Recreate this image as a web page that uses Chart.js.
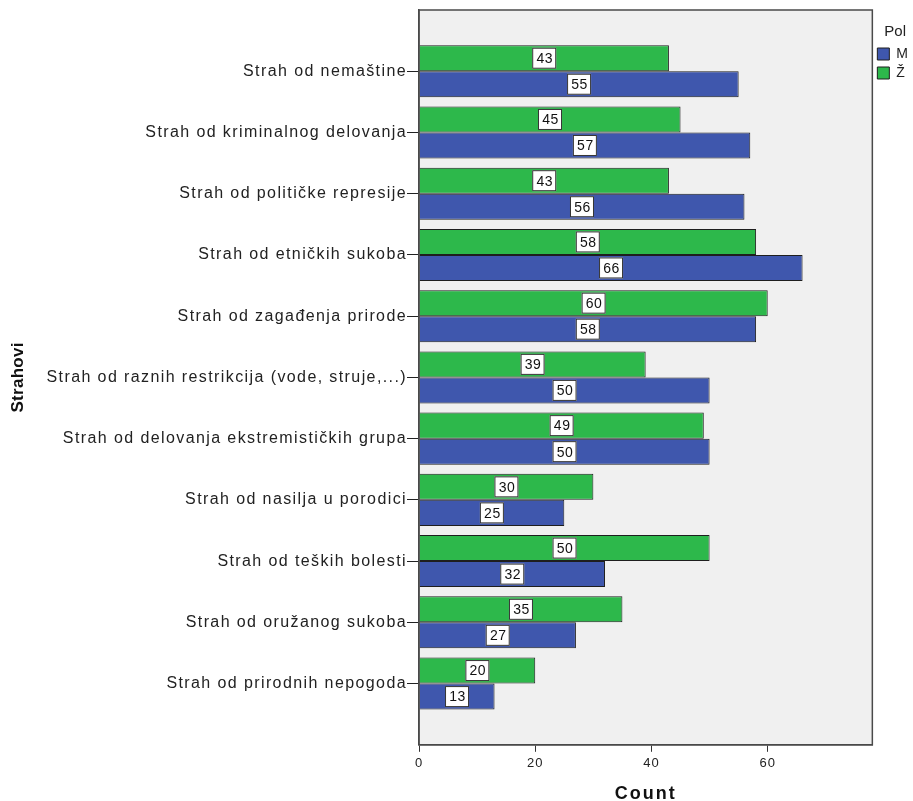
<!DOCTYPE html>
<html>
<head>
<meta charset="utf-8">
<script src="https://cdn.jsdelivr.net/npm/chart.js@4.4.1/dist/chart.umd.min.js"></script>
<style>
  html, body { margin: 0; padding: 0; background: #fff; }
  #wrap { width: 913px; height: 801px; }
</style>
</head>
<body>
<div id="wrap"><canvas id="chart"></canvas></div>
<script>
// Categories (top to bottom)
const strahovi = [
    'Strah od nemaštine',
    'Strah od kriminalnog delovanja',
    'Strah od političke represije',
    'Strah od etničkih sukoba',
    'Strah od zagađenja prirode',
    'Strah od raznih restrikcija (vode, struje,...)',
    'Strah od delovanja ekstremističkih grupa',
    'Strah od nasilja u porodici',
    'Strah od teških bolesti',
    'Strah od oružanog sukoba',
    'Strah od prirodnih nepogoda'
];

// Counts per gender
const countZ = [43, 45, 43, 58, 60, 39, 49, 30, 50, 35, 20];
const countM = [55, 57, 56, 66, 58, 50, 50, 25, 32, 27, 13];

// X axis ticks
const xTicks = [0, 20, 40, 60];

const FONT = '"Liberation Sans", Arial, sans-serif';

// letter spacing used when each axis draws its labels / title
const labelSpacing = { x: '1px', y: '1.4px' };
const titleSpacing = { x: '2px', y: '0.3px' };

function withSpacing(ctx, spacing, fn) {
    const prev = ctx.letterSpacing;
    ctx.letterSpacing = spacing;
    fn();
    ctx.letterSpacing = prev;
}

// Grey plot frame behind the bars, and spaced axis text
const frame = {
    id: 'frame',
    afterLayout(chart) {
        Object.values(chart.scales).forEach(scale => {
            if (scale._spaced) return;
            const drawLabels = scale.drawLabels.bind(scale);
            const drawTitle = scale.drawTitle.bind(scale);
            scale.drawLabels = area => withSpacing(chart.ctx, labelSpacing[scale.id] || '0px', () => drawLabels(area));
            scale.drawTitle = area => withSpacing(chart.ctx, titleSpacing[scale.id] || '0px', () => drawTitle(area));
            scale._spaced = true;
        });
    },
    beforeDraw(chart) {
        const { ctx, chartArea: a } = chart;
        ctx.save();
        ctx.fillStyle = '#f0f0f0';
        ctx.fillRect(a.left, a.top, a.right - a.left, a.bottom - a.top);
        ctx.restore();
    },
    afterDraw(chart) {
        const { ctx, chartArea: a } = chart;
        ctx.save();
        ctx.strokeStyle = '#4a4a4a';
        ctx.lineWidth = 1.5;
        ctx.strokeRect(a.left, a.top, a.right - a.left, a.bottom - a.top);
        ctx.restore();
    }
};

// White boxed value labels in the middle of each bar
const valueBoxes = {
    id: 'valueBoxes',
    afterDatasetsDraw(chart) {
        const ctx = chart.ctx;
        ctx.save();
        ctx.letterSpacing = '0.5px';
        ctx.font = '14px ' + FONT;
        ctx.textAlign = 'center';
        ctx.textBaseline = 'middle';
        chart.data.datasets.forEach((ds, di) => {
            chart.getDatasetMeta(di).data.forEach((bar, i) => {
                const v = ds.data[i].x;
                const cx = (bar.x + bar.base) / 2;
                const cy = bar.y;
                const w = 24, h = 21;
                ctx.fillStyle = '#ffffff';
                ctx.fillRect(cx - w / 2, cy - h / 2, w, h);
                ctx.strokeStyle = '#333';
                ctx.lineWidth = 1;
                ctx.strokeRect(cx - w / 2 + 0.5, cy - h / 2 + 0.5, w - 1, h - 1);
                ctx.fillStyle = '#111';
                ctx.fillText(String(v), cx + 0.5, cy + 1);
            });
        });
        ctx.restore();
    }
};

const canvas = document.getElementById('chart');

new Chart(canvas, {
    type: 'bar',
    data: {
        datasets: [
            {
                label: 'Ž',
                data: countZ.map((v, i) => ({ x: v, y: i })),
                backgroundColor: '#2db84b',
                borderColor: '#1e1e1e',
                borderWidth: 1
            },
            {
                label: 'M',
                data: countM.map((v, i) => ({ x: v, y: i })),
                backgroundColor: '#3f57ad',
                borderColor: '#1e1e1e',
                borderWidth: 1
            }
        ]
    },
    options: {
        indexAxis: 'y',
        responsive: true,
        maintainAspectRatio: false,
        animation: false,
        datasets: {
            bar: { categoryPercentage: 0.85, barPercentage: 1 }
        },
        layout: { padding: { top: 10, right: -5, bottom: -4, left: 0 } },
        plugins: {
            legend: {
                position: 'right',
                align: 'start',
                reverse: true,
                title: {
                    display: true,
                    text: 'Pol',
                    color: '#222',
                    font: { family: FONT, size: 15 },
                    padding: { top: 14, bottom: 0 }
                },
                labels: {
                    boxWidth: 12,
                    boxHeight: 12,
                    padding: 5,
                    color: '#222',
                    font: { family: FONT, size: 14 }
                }
            },
            tooltip: { enabled: false }
        },
        scales: {
            x: {
                type: 'linear',
                min: 0,
                max: 78,
                afterBuildTicks(scale) {
                    scale.ticks = xTicks.map(v => ({ value: v }));
                },
                grid: {
                    drawOnChartArea: false,
                    drawTicks: true,
                    tickLength: 7,
                    color: '#333'
                },
                border: { display: true, color: '#4a4a4a', width: 1.5 },
                ticks: {
                    color: '#222',
                    padding: 4,
                    font: { family: FONT, size: 13 }
                },
                title: {
                    display: true,
                    text: 'Count',
                    color: '#111',
                    font: { family: FONT, size: 18, weight: 'bold' },
                    padding: { top: 8, bottom: 0 }
                }
            },
            y: {
                type: 'linear',
                reverse: true,
                offset: false,
                min: -1,
                max: 11,
                afterBuildTicks(scale) {
                    scale.ticks = strahovi.map((_, i) => ({ value: i }));
                },
                afterFit(scale) {
                    scale.width = 419;
                },
                grid: {
                    offset: false,
                    drawOnChartArea: false,
                    drawTicks: true,
                    tickLength: 12,
                    color: '#222'
                },
                border: { display: true, color: '#4a4a4a', width: 1.5 },
                ticks: {
                    color: '#222',
                    padding: 0,
                    font: { family: FONT, size: 16 },
                    callback: v => strahovi[v] || ''
                },
                title: {
                    display: true,
                    text: 'Strahovi',
                    color: '#111',
                    font: { family: FONT, size: 17, weight: 'bold' },
                    padding: { top: 8, bottom: 0 }
                }
            }
        }
    },
    plugins: [frame, valueBoxes]
});
</script>
</body>
</html>
